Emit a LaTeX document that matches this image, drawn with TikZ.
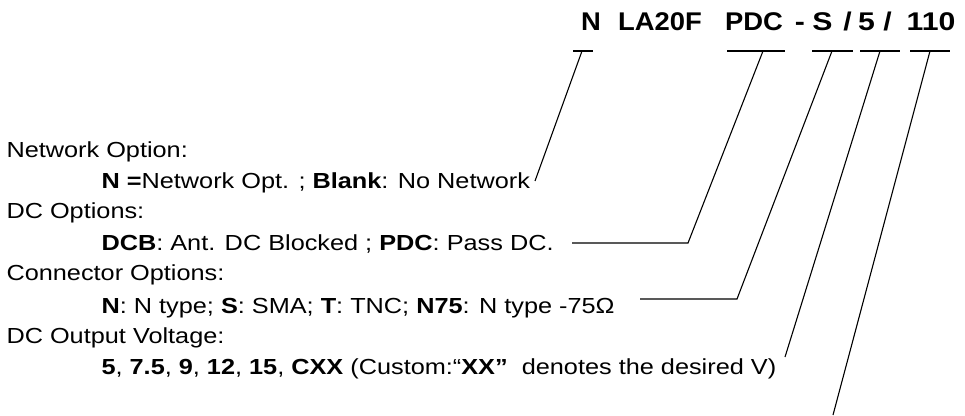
\documentclass[tikz,border=0pt]{standalone}
\usepackage{fontspec}
\setmainfont{Liberation Sans}[FakeStretch=1.16]
\newfontfamily\codefont{Liberation Sans Bold}[FakeStretch=1.07]
\newfontfamily\codewidefont{Liberation Sans Bold}[FakeStretch=1.18]
\begin{document}
\begin{tikzpicture}[x=1pt,y=-1pt,line width=1.1pt,
    head/.style={anchor=base west,inner sep=0pt,font=\fontsize{21.8}{26}\selectfont},
    code/.style={anchor=base,inner sep=0pt,font=\fontsize{25.6}{30}\codefont},
    codewide/.style={code,font=\fontsize{25.6}{30}\codewidefont}]
  \useasboundingbox (0,0) rectangle (965,415);
  % part number
  \foreach \pos/\part/\sty [count=\i] in {591/N/code, 660/LA20F/code, 754/PDC/code,
      800/-/codewide, 822.5/S/codewide, 847.5/{/}/codewide, 866.5/5/codewide,
      887.5/{/}/codewide, 931/110/codewide}
    \node[\sty] (code\i) at (\pos,30) {\part};
  % option list
  \node[head] (netopt) at (6,157) {Network Option:};
  \node[head] (netval) at (101,188) {\textbf{N =}Network Opt. ; \textbf{Blank}: No Network};
  \node[head] (dcopt) at (6,218) {DC Options:};
  \node[head] (dcval) at (101,250) {\textbf{DCB}: Ant. DC Blocked ; \textbf{PDC}: Pass DC.};
  \node[head] (conopt) at (6,280) {Connector Options:};
  \node[head] (conval) at (101,313) {\textbf{N}: N type; \textbf{S}: SMA; \textbf{T}: TNC; \textbf{N75}: N type -75Ω};
  \node[head] (voltopt) at (6,343) {DC Output Voltage:};
  \node[head] (voltval) at (101,374) {\textbf{5}, \textbf{7.5}, \textbf{9}, \textbf{12}, \textbf{15}, \textbf{CXX} (Custom:“\textbf{XX”}\ \ denotes the desired V)};
  % underlines
  \draw (573,51) -- (593,51);
  \draw (727,51) -- (785,51);
  \draw (812,51) -- (853,51);
  \draw (860,51) -- (900,51);
  \draw (910,51) -- (950,51);
  % leaders
  \coordinate (topN) at (582,51);
  \coordinate (endN) at (535,181);
  \coordinate (topDC) at (763,51);
  \coordinate (kneeDC) at (688,243);
  \coordinate (endDC) at (572,243);
  \coordinate (topCon) at (832,51);
  \coordinate (kneeCon) at (737,299);
  \coordinate (endCon) at (640,299);
  \coordinate (topVolt) at (880,51);
  \coordinate (endVolt) at (785,357);
  \coordinate (topNum) at (930,51);
  \coordinate (endNum) at (833,415);
  \draw (topN) -- (endN);
  \draw (topDC) -- (kneeDC) -- (endDC);
  \draw (topCon) -- (kneeCon) -- (endCon);
  \draw (topVolt) -- (endVolt);
  \draw (topNum) -- (endNum);
\end{tikzpicture}
\end{document}
